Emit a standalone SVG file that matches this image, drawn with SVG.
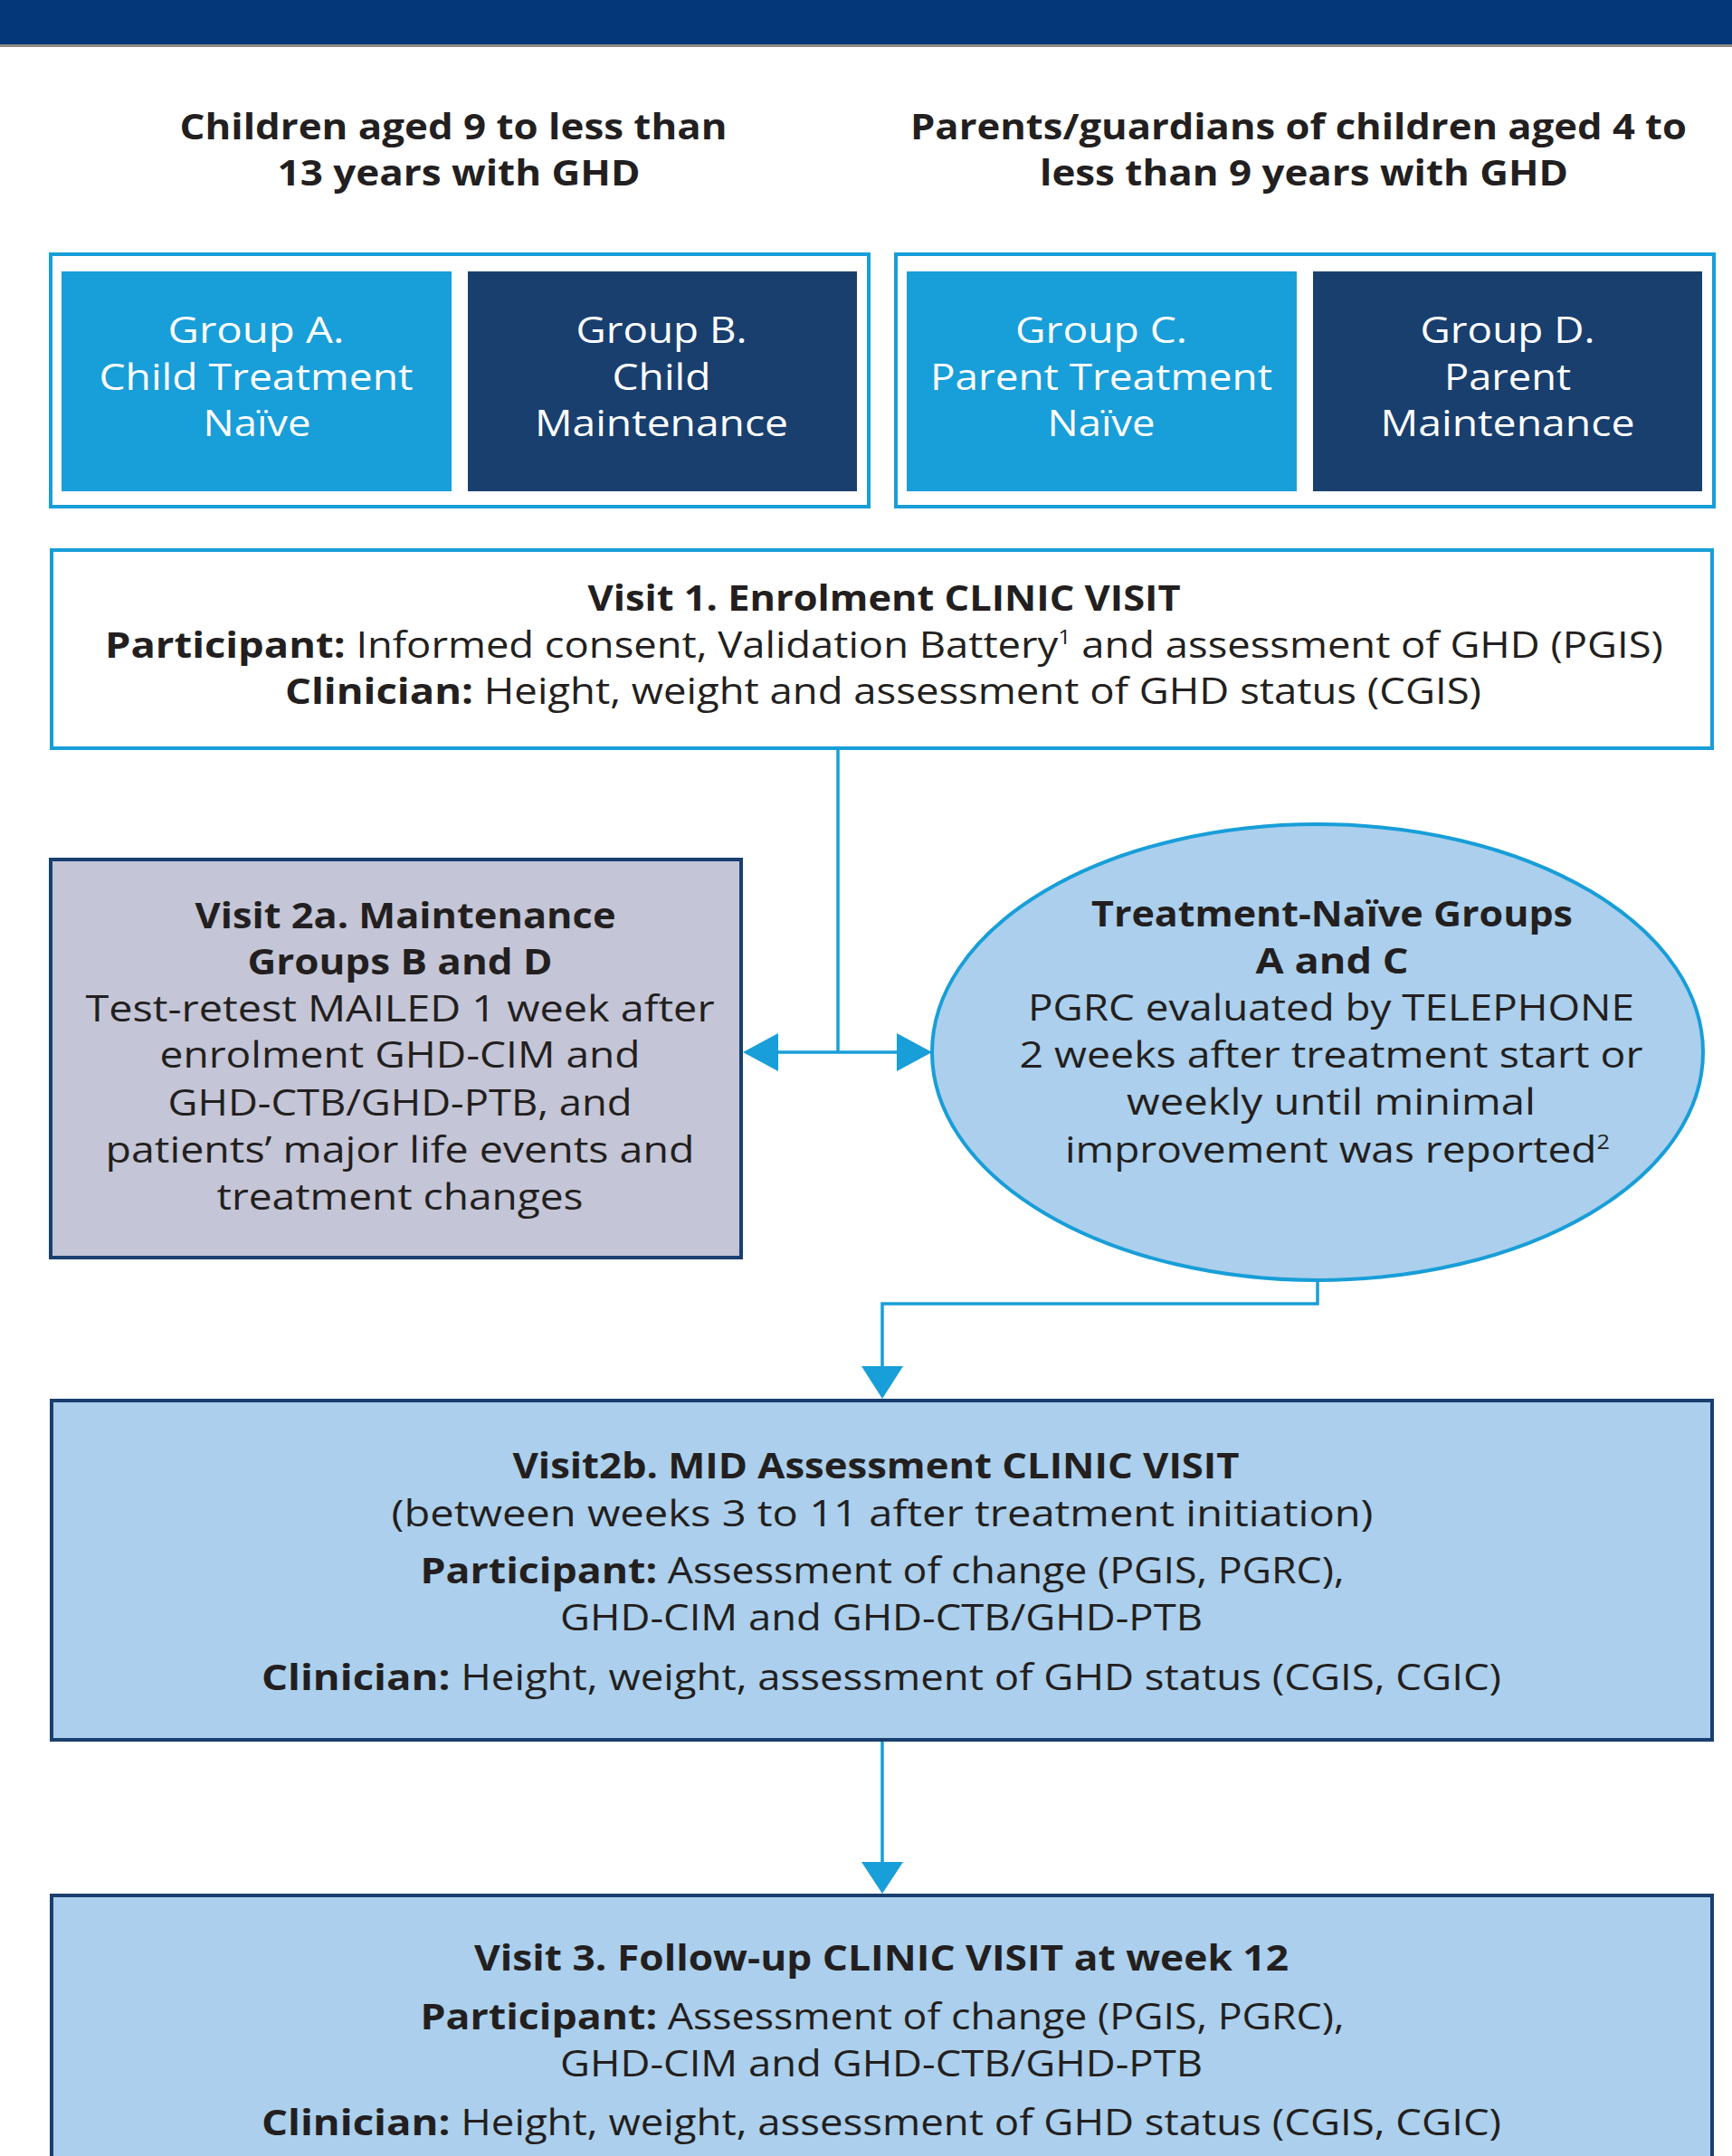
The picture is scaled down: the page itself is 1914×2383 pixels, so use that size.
<svg xmlns="http://www.w3.org/2000/svg" width="1914" height="2383" viewBox="0 0 1914 2383">
<style>
text{font-family:"Open Sans","Noto Sans","DejaVu Sans",sans-serif;fill:#231f20;text-anchor:middle}
.hd{font-size:40px;font-weight:700}
.grp{font-size:40px;fill:#ffffff}
.bd{font-size:40px}
.b{font-weight:700}
.sup{font-size:22px}
.outer{fill:#ffffff;stroke:#189ed8;stroke-width:4}
.light{fill:#189ed8}
.navy{fill:#193f6f}
.conn{fill:none;stroke:#189ed8;stroke-width:3.5}
.ah{fill:#189ed8}
</style>
<rect x="0" y="0" width="1914" height="49" fill="#03377a"/>
<rect x="0" y="49" width="1914" height="3" fill="#8f8a84"/>

<g id="header-children">
<text class="hd" x="501" y="154" textLength="605" lengthAdjust="spacingAndGlyphs">Children aged 9 to less than</text>
<text class="hd" x="507" y="205" textLength="401" lengthAdjust="spacingAndGlyphs">13 years with GHD</text>
</g>
<g id="header-parents">
<text class="hd" x="1435" y="154" textLength="858" lengthAdjust="spacingAndGlyphs">Parents/guardians of children aged 4 to</text>
<text class="hd" x="1441" y="205" textLength="584" lengthAdjust="spacingAndGlyphs">less than 9 years with GHD</text>
</g>

<g id="children-groups">
<rect class="outer" x="56" y="281" width="904" height="279"/>
</g>
<g id="group-a">
<rect class="light" x="68" y="300" width="431" height="243"/>
<text class="grp" x="283" y="379" textLength="195" lengthAdjust="spacingAndGlyphs">Group A.</text>
<text class="grp" x="283" y="431" textLength="347" lengthAdjust="spacingAndGlyphs">Child Treatment</text>
<text class="grp" x="284" y="482" textLength="119" lengthAdjust="spacingAndGlyphs">Naïve</text>
</g>
<g id="group-b">
<rect class="navy" x="517" y="300" width="430" height="243"/>
<text class="grp" x="731" y="379" textLength="189" lengthAdjust="spacingAndGlyphs">Group B.</text>
<text class="grp" x="731" y="431" textLength="109" lengthAdjust="spacingAndGlyphs">Child</text>
<text class="grp" x="731" y="482" textLength="280" lengthAdjust="spacingAndGlyphs">Maintenance</text>
</g>
<g id="parent-groups">
<rect class="outer" x="990" y="281" width="904" height="279"/>
</g>
<g id="group-c">
<rect class="light" x="1002" y="300" width="431" height="243"/>
<text class="grp" x="1217" y="379" textLength="190" lengthAdjust="spacingAndGlyphs">Group C.</text>
<text class="grp" x="1217" y="431" textLength="378" lengthAdjust="spacingAndGlyphs">Parent Treatment</text>
<text class="grp" x="1217" y="482" textLength="119" lengthAdjust="spacingAndGlyphs">Naïve</text>
</g>
<g id="group-d">
<rect class="navy" x="1451" y="300" width="430" height="243"/>
<text class="grp" x="1666" y="379" textLength="193" lengthAdjust="spacingAndGlyphs">Group D.</text>
<text class="grp" x="1666" y="431" textLength="140" lengthAdjust="spacingAndGlyphs">Parent</text>
<text class="grp" x="1666" y="482" textLength="281" lengthAdjust="spacingAndGlyphs">Maintenance</text>
</g>

<g id="visit1">
<rect x="57" y="608" width="1835" height="219" fill="#ffffff" stroke="#189ed8" stroke-width="4"/>
<text class="bd b" x="977" y="675" textLength="655" lengthAdjust="spacingAndGlyphs">Visit 1. Enrolment CLINIC VISIT</text>
<text class="bd" x="977" y="727" textLength="1722" lengthAdjust="spacingAndGlyphs"><tspan class="b">Participant:</tspan> Informed consent, Validation Battery<tspan class="sup" dy="-15">1</tspan><tspan dy="15"> and assessment of GHD (PGIS)</tspan></text>
<text class="bd" x="976" y="778" textLength="1322" lengthAdjust="spacingAndGlyphs"><tspan class="b">Clinician:</tspan> Height, weight and assessment of GHD status (CGIS)</text>
</g>

<g id="visit2a">
<rect x="56" y="950" width="763" height="440" fill="#c4c5d6" stroke="#193f6f" stroke-width="4"/>
<text class="bd b" x="448" y="1026" textLength="465" lengthAdjust="spacingAndGlyphs">Visit 2a. Maintenance</text>
<text class="bd b" x="442" y="1077" textLength="337" lengthAdjust="spacingAndGlyphs">Groups B and D</text>
<text class="bd" x="442" y="1129" textLength="695" lengthAdjust="spacingAndGlyphs">Test-retest MAILED 1 week after</text>
<text class="bd" x="442" y="1180" textLength="531" lengthAdjust="spacingAndGlyphs">enrolment GHD-CIM and</text>
<text class="bd" x="442" y="1233" textLength="513" lengthAdjust="spacingAndGlyphs">GHD-CTB/GHD-PTB, and</text>
<text class="bd" x="442" y="1285" textLength="651" lengthAdjust="spacingAndGlyphs">patients’ major life events and</text>
<text class="bd" x="442" y="1337" textLength="405" lengthAdjust="spacingAndGlyphs">treatment changes</text>
</g>

<g id="treatment-naive">
<ellipse cx="1456" cy="1163" rx="426" ry="252" fill="#abcfec" stroke="#189ed8" stroke-width="4"/>
<text class="bd b" x="1472" y="1024" textLength="532" lengthAdjust="spacingAndGlyphs">Treatment-Naïve Groups</text>
<text class="bd b" x="1472" y="1076" textLength="169" lengthAdjust="spacingAndGlyphs">A and C</text>
<text class="bd" x="1471" y="1128" textLength="670" lengthAdjust="spacingAndGlyphs">PGRC evaluated by TELEPHONE</text>
<text class="bd" x="1471" y="1180" textLength="689" lengthAdjust="spacingAndGlyphs">2 weeks after treatment start or</text>
<text class="bd" x="1471" y="1232" textLength="452" lengthAdjust="spacingAndGlyphs">weekly until minimal</text>
<text class="bd" x="1478" y="1285" textLength="602" lengthAdjust="spacingAndGlyphs">improvement was reported<tspan class="sup" dy="-15">2</tspan></text>
</g>

<g id="visit2b">
<rect x="57" y="1548" width="1835" height="375" fill="#abcfec" stroke="#193f6f" stroke-width="4"/>
<text class="bd b" x="968" y="1634" textLength="803" lengthAdjust="spacingAndGlyphs">Visit2b. MID Assessment CLINIC VISIT</text>
<text class="bd" x="975" y="1687" textLength="1085" lengthAdjust="spacingAndGlyphs">(between weeks 3 to 11 after treatment initiation)</text>
<text class="bd" x="975" y="1750" textLength="1021" lengthAdjust="spacingAndGlyphs"><tspan class="b">Participant:</tspan> Assessment of change (PGIS, PGRC),</text>
<text class="bd" x="974" y="1802" textLength="710" lengthAdjust="spacingAndGlyphs">GHD-CIM and GHD-CTB/GHD-PTB</text>
<text class="bd" x="974" y="1868" textLength="1370" lengthAdjust="spacingAndGlyphs"><tspan class="b">Clinician:</tspan> Height, weight, assessment of GHD status (CGIS, CGIC)</text>
</g>

<g id="visit3">
<rect x="57" y="2095" width="1835" height="400" fill="#abcfec" stroke="#193f6f" stroke-width="4"/>
<text class="bd b" x="974" y="2178" textLength="900" lengthAdjust="spacingAndGlyphs">Visit 3. Follow-up CLINIC VISIT at week 12</text>
<text class="bd" x="975" y="2243" textLength="1021" lengthAdjust="spacingAndGlyphs"><tspan class="b">Participant:</tspan> Assessment of change (PGIS, PGRC),</text>
<text class="bd" x="974" y="2295" textLength="710" lengthAdjust="spacingAndGlyphs">GHD-CIM and GHD-CTB/GHD-PTB</text>
<text class="bd" x="974" y="2360" textLength="1370" lengthAdjust="spacingAndGlyphs"><tspan class="b">Clinician:</tspan> Height, weight, assessment of GHD status (CGIS, CGIC)</text>
</g>

<g id="connectors">
<path class="conn" d="M926 829 V1163"/>
<path class="conn" d="M858 1163 H993"/>
<polygon class="ah" points="821,1163 860,1142 860,1184"/>
<polygon class="ah" points="1030,1163 991,1142 991,1184"/>
<path class="conn" d="M1456 1415 V1441 H975 V1512" stroke-width="4"/>
<polygon class="ah" points="952,1510 998,1510 975,1546"/>
<path class="conn" d="M975 1925 V2060" stroke-width="3"/>
<polygon class="ah" points="952,2058 998,2058 975,2093"/>
</g>
</svg>
